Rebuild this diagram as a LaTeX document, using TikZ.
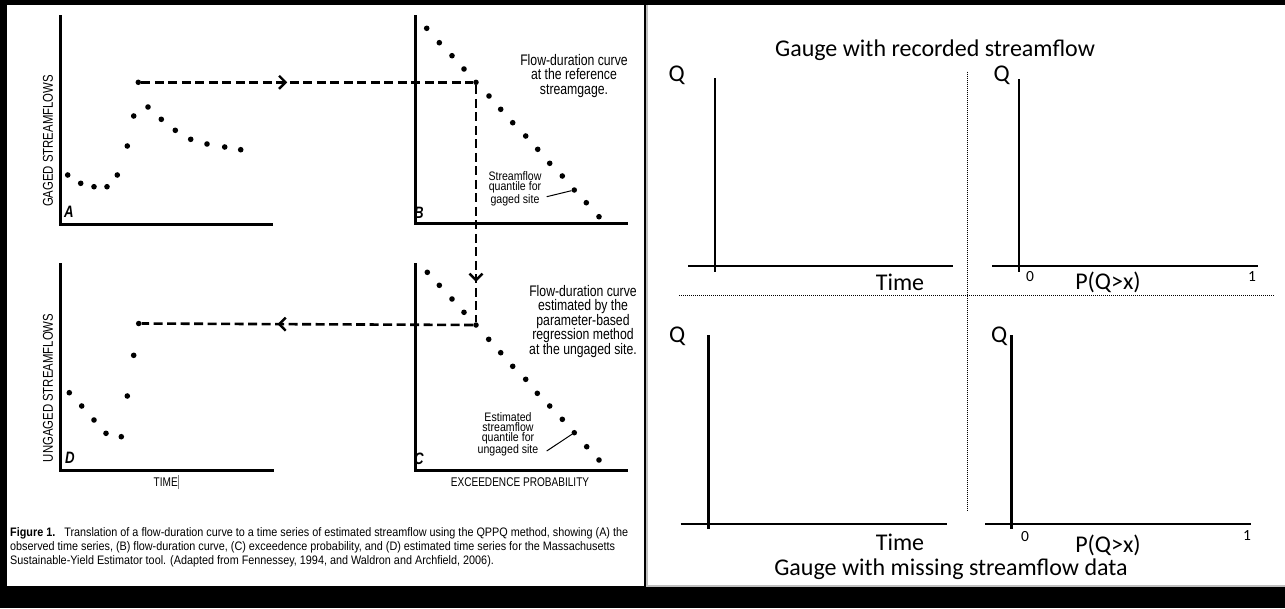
\documentclass[tikz,border=0pt]{standalone}
\usepackage{fontspec}
\setmainfont{Liberation Sans}
\newfontfamily\condensed[FakeStretch=0.8]{Liberation Sans}
\newfontfamily\capfont[FakeStretch=0.88]{Liberation Sans}
\newfontfamily\notefont[FakeStretch=0.86]{Liberation Sans}
\newfontfamily\calib{Carlito}
\usetikzlibrary{arrows.meta,positioning,decorations.markings}

\begin{document}
\begin{tikzpicture}[x=1pt,y=-1pt,obs/.style={circle,fill=black,inner sep=0pt,minimum size=5.5pt},axline/.style={line width=3pt,line join=miter},transfer/.style={line width=2.6pt,dash pattern=on 9pt off 4.5pt,postaction={decorate}},chevron/.tip={Straight Barb[length=6.5pt,width=13pt,line width=2.4pt]},note/.style={font=\condensed\fontsize{15.3}{14.5}\selectfont,align=center,inner sep=0pt},smallnote/.style={font=\notefont\fontsize{12.3}{10}\selectfont,align=center,inner sep=0pt},axtitle/.style={font=\condensed\fontsize{12.6}{13}\selectfont,inner sep=0pt},sidetitle/.style={font=\condensed\fontsize{14.2}{14}\selectfont,inner sep=0pt,rotate=90},panel/.style={font=\condensed\bfseries\itshape\fontsize{16.5}{16}\selectfont,inner sep=0pt},qaxis/.style={line width=2.5pt},qlabel/.style={font=\calib\fontsize{24}{24}\selectfont,inner sep=0pt},tick/.style={font=\calib\fontsize{15.5}{15}\selectfont,inner sep=0pt},sep/.style={line width=1pt,dash pattern=on 1pt off 1pt}]
\fill[black] (0,0) rectangle (1285,608);
\useasboundingbox (0,0) rectangle (1285,608);
\fill[white] (7,5) rectangle (644,586);
\fill[gray!50] (646,5) rectangle (1285,587);
\fill[white] (648,5) rectangle (1285,585);
% left: QPPQ figure
\draw[axline] (60,15) -- (60,224) -- (273,224);
\draw[axline] (415,15) -- (415,223) -- (628,223);
\draw[axline] (60,263) -- (60,470.5) -- (274,470.5);
\draw[axline] (415,263) -- (415,470.5) -- (628,470.5);
\node[sidetitle] (gaged) at (48,141) {GAGED STREAMFLOWS};
\node[sidetitle] (ungaged) at (48,388) {UNGAGED STREAMFLOWS};
\node[axtitle] (time) at (166,482) {TIME\textcolor{gray}{\rule[-3pt]{0.6pt}{14pt}}};
\node[axtitle] (exc) at (520,482) {EXCEEDENCE PROBABILITY};
\node[panel] (pa) at (69,212) {A};
\node[panel] (pb) at (419,213) {B};
\node[panel] (pc) at (419,459) {C};
\node[panel] (pd) at (70,458) {D};
\foreach \p in {(67.7,175),(80.7,183.3),(94,186.7),(107,186.7),(117.3,175),(127.3,146),(133.7,116),(148,107),(161.3,119.3),(175.3,130.3),(190.7,139.3),(207,144),(224.7,147),(240.7,149.7)} \fill \p circle (2.8);
\foreach \p in {(426.7,28.3),(439.3,42.7),(452,55.7),(464,69),(489,96),(500.7,109.3),(512.7,122.7),(525.7,136),(537.7,149.3),(549.7,163.3),(562.3,176),(586.3,202.7),(599,216.7)} \fill \p circle (2.8);
\foreach \p in {(427.3,272.3),(439.3,285.3),(452,299),(464,312.3),(488.7,339.3),(500.7,352.7),(512.7,366.3),(525.7,379.3),(537.3,393.3),(549.7,406),(562.3,419.3),(586.7,446.7),(599,460)} \fill \p circle (2.8);
\foreach \p in {(69.3,392.7),(81.7,406),(94,420),(106,433.3),(121.3,436.7),(127.3,396),(133.7,355.3)} \fill \p circle (2.8);
\node[obs] (a0) at (138.3,82.3) {};
\node[obs] (b0) at (476,82.3) {};
\node[obs] (bq) at (574.3,190) {};
\node[obs] (c0) at (476,325) {};
\node[obs] (cq) at (574.3,432.7) {};
\node[obs] (d0) at (138.7,323.5) {};
\draw[transfer,decoration={markings,mark=at position .44 with {\arrow{chevron}}}] (a0) -- (b0);
\draw[transfer,decoration={markings,mark=at position .83 with {\arrow{chevron}}}] (b0) -- (c0);
\draw[transfer,decoration={markings,mark=at position .59 with {\arrow{chevron}}}] (c0) -- (d0);
\node[note] (bnote) at (574,76) {Flow-duration curve\\at the reference\\streamgage.};
\node[note] (cnote) at (583,321.5) {Flow-duration curve\\estimated by the\\parameter-based\\regression method\\at the ungaged site.};
\node[smallnote] (bsmall) at (515,189) {Streamflow\\quantile for\\gaged site};
\node[smallnote] (csmall) at (508,434.5) {Estimated\\streamflow\\quantile for\\ungaged site};
\coordinate (bq-from) at (546.7,196.7);
\coordinate (cq-from) at (546.7,451);
\draw[line width=1pt] (bq-from) -- (bq);
\draw[line width=1pt] (cq-from) -- (cq);
\node[anchor=north west,align=left,inner sep=0pt,font=\capfont\fontsize{12.3}{14}\selectfont] (caption) at (10,527) {\textbf{Figure 1.}\hspace{9pt}Translation of a flow-duration curve to a time series of estimated streamflow using the QPPQ method, showing (A) the\\observed time series, (B) flow-duration curve, (C) exceedence probability, and (D) estimated time series for the Massachusetts\\Sustainable-Yield Estimator tool. (Adapted from Fennessey, 1994, and Waldron and Archfield, 2006).};
% right: gauge sketch
\node[qlabel] (rectitle) at (935,50) {Gauge with recorded streamflow};
\node[qlabel] (mistitle) at (951,569) {Gauge with missing streamflow data};
\draw[sep] (679,295.5) -- (1275,295.5);
\draw[sep] (967.3,71.7) -- (967.3,511.7);
\node[qlabel] (q1) at (676.7,75) {Q};
\node[qlabel] (q2) at (1001.7,75) {Q};
\node[qlabel] (q3) at (677.3,336.7) {Q};
\node[qlabel] (q4) at (999.3,336.7) {Q};
\draw[qaxis] (715,78) -- (715,272);
\draw[qaxis] (688,266) -- (953,266);
\draw[qaxis] (1019,79) -- (1019,272);
\draw[qaxis] (992,266) -- (1258,266);
\draw[qaxis] (708.3,335) -- (708.3,529.3);
\draw[qaxis] (680.7,524) -- (946.7,524);
\draw[qaxis] (1011.7,335) -- (1011.7,529.3);
\draw[qaxis] (985,524) -- (1250.7,524);
\node[qlabel] (t1) at (900,282) {Time};
\node[qlabel] (t2) at (900,542.5) {Time};
\node[qlabel] (p1) at (1108,282) {P(Q>x)};
\node[qlabel] (p2) at (1108,545) {P(Q>x)};
\node[tick] (z1) at (1030,277) {0};
\node[tick] (o1) at (1252,277) {1};
\node[tick] (z2) at (1025,537) {0};
\node[tick] (o2) at (1247,536) {1};
\end{tikzpicture}
\end{document}
